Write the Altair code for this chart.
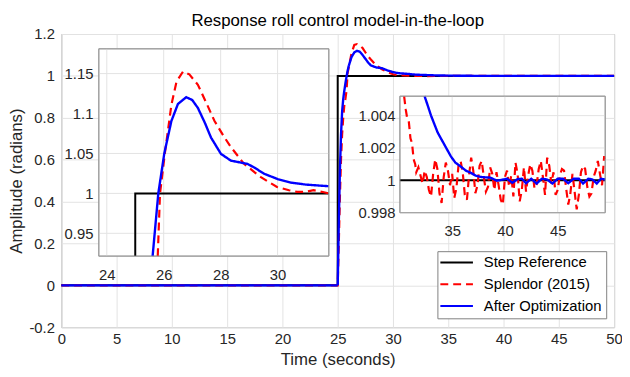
import altair as alt
import pandas as pd

FONT = "Liberation Sans"
GRID = "#e3e3e3"
BOX = "#9a9a9a"
TXT = "#262626"

# ---------------- main plot data ----------------
names = ["Step Reference", "Splendor (2015)", "After Optimization"]
colors = ["#000000", "#ff0000", "#0000ff"]
dashes = [[1, 0], [8, 5], [1, 0]]

step_t = [0, 25, 25, 50]
step_v = [0, 0, 1, 1]

red_t = [0, 25.0, 25.1, 25.2, 25.3, 25.4, 25.5, 25.6, 25.7, 25.8, 25.9, 26.0, 26.25, 26.5,
         26.75, 27.0, 27.25, 27.5, 27.75, 28.0, 28.5, 29.0, 29.5, 30.0, 30.5, 31.0, 31.5,
         32.0, 33.0, 35.0, 40.0, 50.0]
red_v = [0, 0, 0.2, 0.42, 0.6, 0.72, 0.8, 0.86, 0.89, 0.93, 1.015, 1.04, 1.108, 1.148,
         1.152, 1.145, 1.133, 1.113, 1.093, 1.078, 1.05, 1.032, 1.018, 1.008, 1.0035, 1.0025,
         1.0012, 1.0003, 0.999, 1.0, 1.0, 1.0]

blue_t = [0, 25.0, 25.1, 25.2, 25.3, 25.4, 25.5, 25.6, 25.7, 25.8, 25.9, 26.0, 26.25, 26.5,
          26.75, 27.0, 27.25, 27.5, 27.75, 28.0, 28.5, 29.0, 29.5, 30.0, 30.5, 31.0, 31.5,
          32.0, 33.0, 34.0, 35.0, 36.0, 38.0, 40.0, 50.0]
blue_v = [0, 0, 0.3, 0.55, 0.72, 0.83, 0.89, 0.93, 0.965, 0.997, 1.025, 1.048, 1.09, 1.112,
          1.12, 1.115, 1.1, 1.082, 1.064, 1.05, 1.04, 1.037, 1.026, 1.018, 1.013, 1.011,
          1.009, 1.006, 1.004, 1.0023, 1.0013, 1.0007, 1.0002, 1.0, 1.0]

x_ticks = [0, 5, 10, 15, 20, 25, 30, 35, 40, 45, 50]
y_ticks = [-0.2, 0, 0.2, 0.4, 0.6, 0.8, 1, 1.2]

# ---------------- inset 1 data (zoom on overshoot) ----------------
in1_x_dom = [23.72, 31.8]
in1_y_dom = [0.9215, 1.181]
in1_x_ticks = [24, 26, 28, 30]
in1_y_ticks = [0.95, 1, 1.05, 1.1, 1.15]

step1_t = [25.0, 25.0, 31.8]
step1_v = [0.9215, 1.0, 1.0]
red1_t = [25.79, 25.87, 26.04, 26.27, 26.45, 26.68, 26.9, 27.2, 27.5, 27.78, 28.1, 28.36,
          28.82, 29.4, 29.98, 30.4, 30.68, 31.0, 31.26, 31.55, 31.8]
red1_v = [0.9215, 1.0, 1.05, 1.111, 1.14, 1.1526, 1.149, 1.136, 1.113, 1.091, 1.072, 1.058,
          1.037, 1.0206, 1.008, 1.004, 1.002, 1.002, 1.004, 1.002, 1.0]
blue1_t = [25.61, 25.81, 26.02, 26.27, 26.5, 26.79, 27.0, 27.2, 27.45, 27.66, 28.01, 28.36,
           28.65, 28.94, 29.2, 29.52, 30.0, 30.45, 31.0, 31.8]
blue1_v = [0.9215, 1.0, 1.05, 1.0907, 1.112, 1.1204, 1.117, 1.107, 1.088, 1.07, 1.0495, 1.041,
           1.039, 1.037, 1.032, 1.0247, 1.018, 1.0136, 1.011, 1.009]

# ---------------- inset 2 data (zoom on steady state) ----------------
in2_x_dom = [30.05, 49.5]
in2_y_dom = [0.998, 1.0052]
in2_x_ticks = [35, 40, 45]
in2_y_ticks = [0.998, 1, 1.002, 1.004]

step2_t = [30.05, 49.5]
step2_v = [1.0, 1.0]
red2_t = [30.45, 30.6, 30.75, 30.9, 31.05, 31.2, 31.35, 31.5,
          31.6, 31.8, 32.0, 32.2, 32.4, 32.6, 32.8, 33.0, 33.2, 33.4, 33.6, 33.8, 34.0, 34.2,
          34.4, 34.6, 34.8, 35.0, 35.2, 35.4, 35.6, 35.8, 36.0, 36.2, 36.4, 36.6, 36.8, 37.0,
          37.2, 37.4, 37.6, 37.8, 38.0, 38.2, 38.4, 38.6, 38.8, 39.0, 39.2, 39.4, 39.6, 39.8,
          40.0, 40.2, 40.4, 40.6, 40.8, 41.0, 41.2, 41.4, 41.6, 41.8, 42.0, 42.2, 42.4, 42.6,
          42.8, 43.0, 43.2, 43.4, 43.6, 43.8, 44.0, 44.2, 44.4, 44.6, 44.8, 45.0, 45.2, 45.4,
          45.6, 45.8, 46.0, 46.2, 46.4, 46.6, 46.8, 47.0, 47.2, 47.4, 47.6, 47.8, 48.0, 48.2,
          48.4, 48.6, 48.8, 49.0, 49.2, 49.4, 49.5]
red2_v = [1.0052, 1.0044, 1.0038, 1.0036, 1.0026, 1.0023, 1.0013, 1.0010,
          1.0005, 1.0008, 1.0003, 0.9998, 1.0006, 1.0002, 0.9994, 0.9990, 1.0004, 1.0013,
          1.0007, 0.9992, 0.9986, 1.0002, 1.0011, 1.0006, 0.9997, 1.0004, 0.9989, 0.9995,
          1.0009, 1.0012, 1.0005, 0.9991, 0.9988, 1.0003, 1.0014, 1.0006, 0.9992, 0.9997,
          1.0009, 1.0012, 1.0002, 0.9993, 0.9996, 1.0008, 1.0004, 0.9994, 1.0005, 0.9997,
          0.9988, 0.9985, 1.0002, 1.0006, 0.9996, 1.0003, 0.9990, 1.0011, 1.0004, 0.9987,
          0.9994, 1.0008, 0.9993, 1.0003, 1.0010, 1.0006, 0.9995, 0.9997, 1.0007, 1.0012,
          1.0002, 0.9991, 1.0014, 1.0009, 0.9998, 1.0005, 0.9991, 0.9994, 1.0003, 1.0007,
          1.0006, 0.9995, 0.9985, 0.9992, 1.0004, 0.9993, 0.9982, 0.9991, 1.0005, 1.0009,
          1.0007, 0.9996, 0.9990, 0.9992, 1.0002, 1.0006, 1.0012, 1.0004, 0.9997, 1.0015,
          1.0010]
blue2_t = [32.39, 32.7, 33.0, 33.3, 33.63, 34.26, 34.88, 35.3, 35.82, 36.3, 36.75, 37.2,
           37.69, 38.2, 38.62, 39.0, 39.24, 39.6, 40.2, 40.7, 41.2, 41.6, 42.0, 42.5, 43.0,
           43.5, 44.0, 44.5, 45.0, 45.5, 46.0, 46.5, 47.0, 47.4, 47.9, 48.3, 48.7, 49.1, 49.5]
blue2_v = [1.0052, 1.0046, 1.0040, 1.0035, 1.00295, 1.00221, 1.00148, 1.0011, 1.00085,
           1.0006, 1.00047, 1.0003, 1.00021, 1.00018, 1.00017, 1.00005, 0.99998, 1.00002,
           1.0001, 0.99985, 1.00008, 1.0001, 0.99982, 1.0001, 0.9998, 1.0001, 1.00005,
           0.9998, 1.0001, 1.0001, 0.99982, 1.0001, 1.0001, 0.9998, 1.0001, 1.00005, 0.9998,
           1.0001, 1.00005]


def frame(t, v, series=None):
    d = pd.DataFrame({"t": t, "v": v, "i": list(range(len(t)))})
    if series is not None:
        d["series"] = series
    return d


main_df = pd.concat([frame(step_t, step_v, names[0]),
                     frame(red_t, red_v, names[1]),
                     frame(blue_t, blue_v, names[2])], ignore_index=True)

label_expr = "'' + datum.value"

# layout (pixels, relative to the main plot's top-left corner)
TOP = 24
W, H = 560, 297

# ---------------- main layer ----------------
MX = alt.Scale(domain=[0, 50], nice=False, zero=False)
MY = alt.Scale(domain=[-0.2, 1.2], nice=False, zero=False)
ax_mx = alt.Axis(values=x_ticks, orient="bottom", title="Time (seconds)", grid=True,
                 gridColor=GRID, ticks=False, domain=False, labelPadding=5, titlePadding=5,
                 labelFlush=False, labelOverlap=False)
ax_my = alt.Axis(values=y_ticks, orient="left", title="Amplitude (radians)", grid=True,
                 gridColor=GRID, ticks=False, domain=False, labelPadding=7, titlePadding=3,
                 labelExpr=label_expr, labelFlush=False, labelOverlap=False)

leg = alt.Legend(title=None, orient="none", legendX=381, legendY=220, fillColor="white",
                 strokeColor="#808080", padding=4, labelFontSize=15, labelFont=FONT,
                 labelColor="#000000", symbolType="M-3,0H3", symbolSize=121,
                 symbolStrokeWidth=2, symbolOffset=8, labelOffset=20, rowPadding=6)
color_enc = alt.Color("series:N", scale=alt.Scale(domain=names, range=colors), legend=leg)
dash_enc = alt.StrokeDash("series:N", scale=alt.Scale(domain=names, range=dashes), legend=leg)


def main_line(name, width):
    return alt.Chart(main_df).transform_filter(alt.datum.series == name).mark_line(
        strokeWidth=width).encode(
        x=alt.X("t:Q", scale=MX, axis=ax_mx),
        y=alt.Y("v:Q", scale=MY, axis=ax_my),
        color=color_enc, strokeDash=dash_enc, order=alt.Order("i:Q"))


main = alt.layer(main_line(names[0], 2), main_line(names[1], 2.2), main_line(names[2], 2.4))


# ---------------- inset builder ----------------
def inset(xdom, ydom, xrange, yrange, xt, yt, xoff, yoff, xpad, ypad, lines):
    xs = alt.Scale(domain=xdom, range=xrange, nice=False, zero=False)
    ys = alt.Scale(domain=ydom, range=yrange, nice=False, zero=False)
    axx = alt.Axis(values=xt, orient="bottom", offset=xoff, title=None, grid=False,
                   ticks=False, domain=False, labelPadding=xpad, labelFlush=False,
                   labelOverlap=False, zindex=1)
    axy = alt.Axis(values=yt, orient="left", offset=yoff, title=None, grid=False,
                   ticks=False, domain=False, labelPadding=ypad, labelExpr=label_expr,
                   labelFlush=False, labelOverlap=False, zindex=1)
    one = pd.DataFrame({"a": [0]})

    def box(fill, fill_op):
        return alt.Chart(one).mark_rect(fill=fill, fillOpacity=fill_op, stroke=BOX,
                                        strokeWidth=1).encode(
            x=alt.XDatum(xdom[0], type="quantitative", scale=xs, axis=axx),
            x2=alt.X2Datum(xdom[1]),
            y=alt.YDatum(ydom[0], type="quantitative", scale=ys, axis=axy),
            y2=alt.Y2Datum(ydom[1]))

    gx = alt.Chart(pd.DataFrame({"g": xt})).mark_rule(color=GRID, strokeWidth=1).encode(
        x=alt.X("g:Q", scale=xs, axis=axx),
        y=alt.YDatum(ydom[0], type="quantitative", scale=ys, axis=axy),
        y2=alt.Y2Datum(ydom[1]))
    gy = alt.Chart(pd.DataFrame({"g": yt})).mark_rule(color=GRID, strokeWidth=1).encode(
        y=alt.Y("g:Q", scale=ys, axis=axy),
        x=alt.XDatum(xdom[0], type="quantitative", scale=xs, axis=axx),
        x2=alt.X2Datum(xdom[1]))
    layers = [box("white", 1), gx, gy]
    for (t, v, col, dash, w) in lines:
        layers.append(alt.Chart(frame(t, v)).mark_line(
            color=col, strokeDash=dash, strokeWidth=w).encode(
            x=alt.X("t:Q", scale=xs, axis=axx),
            y=alt.Y("v:Q", scale=ys, axis=axy),
            order=alt.Order("i:Q")))
    layers.append(box("white", 0))
    return alt.layer(*layers)


# inset boxes in page pixels: inset1 x 100-333, y 47-257 ; inset2 x 405-613, y 95-213
V0 = 8 + TOP  # page y of the main plot top
inset1 = inset(in1_x_dom, in1_y_dom, [38, 271], [257 - V0, 47 - V0], in1_x_ticks, in1_y_ticks,
               -(H - (257 - V0)), -38, 12, 6,
               [(step1_t, step1_v, colors[0], dashes[0], 2),
                (red1_t, red1_v, colors[1], dashes[1], 2.2),
                (blue1_t, blue1_v, colors[2], dashes[2], 2.4)])

inset2 = inset(in2_x_dom, in2_y_dom, [343, 551], [213 - V0, 95 - V0], in2_x_ticks, in2_y_ticks,
               -(H - (213 - V0)), -343, 11, 5,
               [(step2_t, step2_v, colors[0], dashes[0], 2),
                (red2_t, red2_v, colors[1], dashes[1], 2.2),
                (blue2_t, blue2_v, colors[2], dashes[2], 2.4)])

chart = alt.layer(main, inset1, inset2).resolve_scale(
    x="independent", y="independent"
).properties(
    width=W, height=H,
    title=alt.TitleParams("Response roll control model-in-the-loop", fontSize=17, font=FONT,
                          fontWeight="normal", color="#000000", frame="group", offset=6,
                          dy=9, anchor="middle"),
    autosize=alt.AutoSizeParams(type="none"),
    padding={"left": 54, "top": TOP, "right": 8, "bottom": 361 - TOP - H},
).configure(font=FONT).configure_view(
    stroke=BOX, strokeWidth=1
).configure_axis(
    labelFontSize=15, labelColor=TXT, titleFontSize=17, titleColor=TXT,
    titleFontWeight="normal", labelFont=FONT, titleFont=FONT
)

chart.save("out.html", embed_options={"renderer": "svg", "actions": False})
